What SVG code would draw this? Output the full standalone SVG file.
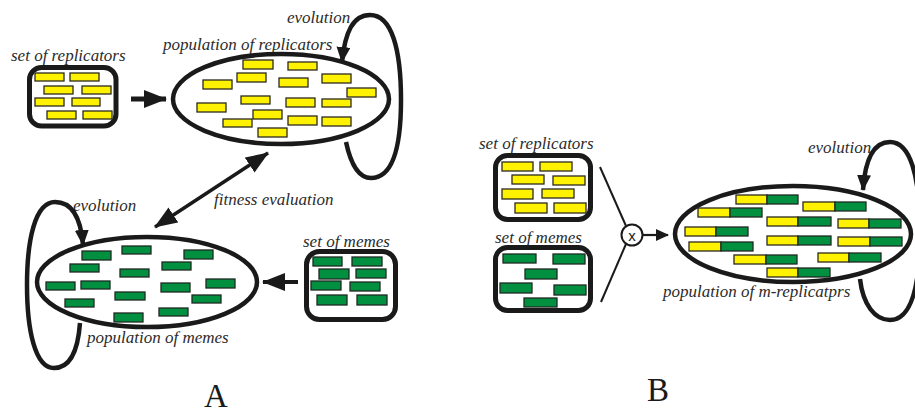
<svg xmlns="http://www.w3.org/2000/svg" width="915" height="413" viewBox="0 0 915 413">
  <style>
    .lbl { font-family: "Liberation Serif", "Times New Roman", serif; font-style: italic; font-size: 17px; fill: #2b2b2b; }
    .big { font-family: "Liberation Serif", "Times New Roman", serif; font-size: 33px; fill: #1a1a1a; }
    .box { fill: #ffffff; stroke: #1a1a1a; stroke-width: 5; }
    .pop { fill: #ffffff; stroke: #1a1a1a; stroke-width: 4.5; }
    .y { fill: #fff200; stroke: #2b2a1e; stroke-width: 1.3; }
    .g { fill: #00903f; stroke: #1f2a22; stroke-width: 1.3; }
    .loop { fill: none; stroke: #1a1a1a; stroke-width: 4.5; }
    .thin { fill: none; stroke: #1a1a1a; stroke-width: 2; }
    .head { fill: #1a1a1a; }
  </style>
  <defs>
    <marker id="ah" markerUnits="userSpaceOnUse" markerWidth="20" markerHeight="16" refX="15" refY="7" orient="auto">
      <path d="M0,0 L16,7 L0,14 Z" fill="#1a1a1a"/>
    </marker>
    <marker id="ahBig" markerUnits="userSpaceOnUse" markerWidth="26" markerHeight="22" refX="22" refY="9" orient="auto-start-reverse">
      <path d="M0,0 L23,9 L0,18 Z" fill="#1a1a1a"/>
    </marker>
    <marker id="ahSmall" markerUnits="userSpaceOnUse" markerWidth="16" markerHeight="14" refX="12" refY="6" orient="auto">
      <path d="M0,0 L13,6 L0,12 Z" fill="#1a1a1a"/>
    </marker>
  </defs>

  <!-- ===== Part A ===== -->
  <g id="a-set-of-replicators">
    <text class="lbl" x="11" y="61">set of replicators</text>
    <rect class="box" x="29.5" y="67.5" width="86.5" height="58.5" rx="12"/>
    <rect class="y" x="35" y="73" width="29" height="8"/>
    <rect class="y" x="70" y="73" width="29" height="8"/>
    <rect class="y" x="44" y="86" width="29" height="8"/>
    <rect class="y" x="82" y="86" width="29" height="8"/>
    <rect class="y" x="35" y="98" width="29" height="8"/>
    <rect class="y" x="72" y="98" width="28" height="8"/>
    <rect class="y" x="47" y="111" width="29" height="8"/>
    <rect class="y" x="83" y="111" width="29" height="8"/>
  </g>

  <g id="a-population-of-replicators">
    <text class="lbl" x="163" y="50">population of replicators</text>
    <ellipse class="pop" cx="281" cy="99" rx="108" ry="45"/>
    <rect class="y" x="243" y="60" width="30" height="9"/>
    <rect class="y" x="288" y="62" width="29" height="8"/>
    <rect class="y" x="237" y="73" width="29" height="9"/>
    <rect class="y" x="203" y="80" width="29" height="9"/>
    <rect class="y" x="279" y="78" width="29" height="9"/>
    <rect class="y" x="322" y="74" width="29" height="9"/>
    <rect class="y" x="347" y="88" width="29" height="9"/>
    <rect class="y" x="241" y="96" width="29" height="8"/>
    <rect class="y" x="197" y="103" width="29" height="9"/>
    <rect class="y" x="286" y="98" width="29" height="9"/>
    <rect class="y" x="322" y="99" width="29" height="8"/>
    <rect class="y" x="253" y="110" width="29" height="9"/>
    <rect class="y" x="223" y="119" width="29" height="8"/>
    <rect class="y" x="288" y="116" width="29" height="9"/>
    <rect class="y" x="322" y="117" width="29" height="9"/>
    <rect class="y" x="258" y="128" width="29" height="9"/>
  </g>

  <g id="a-population-of-memes">
    <text class="lbl" x="87" y="343">population of memes</text>
    <ellipse class="pop" cx="147" cy="282" rx="110" ry="45"/>
    <rect class="g" x="82" y="251" width="29" height="9"/>
    <rect class="g" x="122" y="246" width="29" height="8"/>
    <rect class="g" x="184" y="250" width="29" height="9"/>
    <rect class="g" x="70" y="264" width="29" height="8"/>
    <rect class="g" x="162" y="262" width="29" height="8"/>
    <rect class="g" x="120" y="269" width="29" height="8"/>
    <rect class="g" x="46" y="282" width="29" height="8"/>
    <rect class="g" x="81" y="281" width="29" height="8"/>
    <rect class="g" x="161" y="283" width="29" height="9"/>
    <rect class="g" x="206" y="279" width="29" height="9"/>
    <rect class="g" x="115" y="292" width="30" height="8"/>
    <rect class="g" x="65" y="299" width="29" height="8"/>
    <rect class="g" x="192" y="295" width="29" height="8"/>
    <rect class="g" x="114" y="313" width="29" height="9"/>
    <rect class="g" x="159" y="308" width="29" height="8"/>
  </g>

  <g id="a-set-of-memes">
    <text class="lbl" x="303" y="247">set of memes</text>
    <rect class="box" x="306.5" y="251.5" width="89" height="68" rx="13"/>
    <rect class="g" x="313" y="257" width="29" height="9"/>
    <rect class="g" x="352" y="257" width="30" height="9"/>
    <rect class="g" x="319" y="269" width="30" height="10"/>
    <rect class="g" x="356" y="269" width="30" height="9"/>
    <rect class="g" x="311" y="281" width="30" height="9"/>
    <rect class="g" x="350" y="282" width="30" height="9"/>
    <rect class="g" x="317" y="295" width="30" height="10"/>
    <rect class="g" x="357" y="295" width="30" height="10"/>
  </g>

  <g id="a-labels">
    <text class="lbl" x="287" y="23">evolution</text>
    <text class="lbl" x="73" y="211">evolution</text>
    <text class="lbl" x="214" y="205">fitness evaluation</text>
    <text class="big" x="216" y="407" text-anchor="middle">A</text>
  </g>

  <!-- ===== Part B ===== -->
  <g id="b-set-of-replicators">
    <text class="lbl" x="479" y="149">set of replicators</text>
    <rect class="box" x="495.5" y="155.5" width="95" height="64" rx="12"/>
    <rect class="y" x="502" y="162" width="31" height="9"/>
    <rect class="y" x="540" y="162" width="32" height="9"/>
    <rect class="y" x="512" y="175" width="32" height="9"/>
    <rect class="y" x="553" y="176" width="32" height="9"/>
    <rect class="y" x="502" y="189" width="31" height="10"/>
    <rect class="y" x="542" y="189" width="32" height="9"/>
    <rect class="y" x="515" y="203" width="32" height="10"/>
    <rect class="y" x="554" y="203" width="32" height="10"/>
  </g>

  <g id="b-set-of-memes">
    <text class="lbl" x="495" y="243">set of memes</text>
    <rect class="box" x="495.5" y="247.5" width="95" height="63" rx="12"/>
    <rect class="g" x="503" y="254" width="33" height="9"/>
    <rect class="g" x="553" y="254" width="32" height="10"/>
    <rect class="g" x="525" y="269" width="32" height="10"/>
    <rect class="g" x="500" y="283" width="32" height="10"/>
    <rect class="g" x="554" y="285" width="32" height="10"/>
    <rect class="g" x="524" y="298" width="33" height="9"/>
  </g>

  <g id="b-combine">
    <circle cx="632" cy="235" r="10.5" fill="#ffffff" stroke="#1a1a1a" stroke-width="2"/>
    <text x="632" y="240.5" text-anchor="middle" font-family="Liberation Sans, Arial, sans-serif" font-size="15" fill="#1a1a1a">x</text>
  </g>

  <g id="b-population-of-m-replicators">
    <text class="lbl" x="663" y="297">population of m-replicatprs</text>
    <ellipse class="pop" cx="793" cy="234" rx="118" ry="48"/>
    <g>
      <rect class="y" x="736" y="195" width="31" height="9"/><rect class="g" x="767" y="195" width="31" height="9"/>
      <rect class="y" x="698" y="208" width="32" height="9"/><rect class="g" x="730" y="208" width="32" height="9"/>
      <rect class="y" x="803" y="202" width="32" height="9"/><rect class="g" x="835" y="202" width="31" height="9"/>
      <rect class="y" x="767" y="217" width="31" height="9"/><rect class="g" x="798" y="217" width="33" height="9"/>
      <rect class="y" x="838" y="219" width="31" height="9"/><rect class="g" x="869" y="219" width="32" height="9"/>
      <rect class="y" x="685" y="227" width="31" height="9"/><rect class="g" x="716" y="227" width="32" height="9"/>
      <rect class="y" x="767" y="236" width="31" height="9"/><rect class="g" x="798" y="236" width="33" height="9"/>
      <rect class="y" x="838" y="237" width="32" height="9"/><rect class="g" x="870" y="237" width="32" height="9"/>
      <rect class="y" x="689" y="242" width="32" height="9"/><rect class="g" x="721" y="242" width="32" height="9"/>
      <rect class="y" x="818" y="253" width="31" height="9"/><rect class="g" x="849" y="253" width="32" height="9"/>
      <rect class="y" x="734" y="255" width="32" height="9"/><rect class="g" x="766" y="255" width="31" height="9"/>
      <rect class="y" x="767" y="268" width="31" height="9"/><rect class="g" x="798" y="268" width="32" height="9"/>
    </g>
  </g>

  <g id="b-labels">
    <text class="lbl" x="808" y="153">evolution</text>
    <text class="big" x="658" y="401" text-anchor="middle">B</text>
  </g>

  <!-- ===== Connectors ===== -->
  <g id="connectors">
    <!-- set of replicators -> population -->
    <line x1="131" y1="99" x2="166" y2="99" stroke="#1a1a1a" stroke-width="5" marker-end="url(#ahBig)"/>
    <!-- set of memes -> population -->
    <line x1="298" y1="282" x2="263" y2="282" stroke="#1a1a1a" stroke-width="4" marker-end="url(#ahBig)"/>
    <!-- fitness evaluation (two-way) -->
    <line x1="155" y1="227" x2="268" y2="153" stroke="#1a1a1a" stroke-width="3.5" marker-start="url(#ahBig)" marker-end="url(#ahBig)"/>
    <!-- evolution loop, top population -->
    <path class="loop" d="M346,142 C352,170 361,178 371,178 C392,178 401,150 401,100 C401,50 392,15 370,15 C353,15 345,32 342,62" marker-end="url(#ah)"/>
    <!-- evolution loop, bottom population -->
    <path class="loop" d="M80,323 C78,350 70,368 54,368 C35,368 27,330 27,285 C27,240 35,202 55,202 C73,202 81,220 83,245" marker-end="url(#ah)"/>
    <!-- evolution loop, m-replicator population -->
    <path class="loop" d="M860,279 C863,305 875,320 890,320 C910,320 920,290 920,232 C920,175 910,142 890,142 C873,142 865,160 863,190" marker-end="url(#ah)"/>
    <!-- inputs into the crossover node -->
    <line class="thin" x1="600" y1="167" x2="626" y2="226"/>
    <line class="thin" x1="601" y1="302" x2="626" y2="244"/>
    <line x1="642.5" y1="235" x2="668" y2="235" stroke="#1a1a1a" stroke-width="2.2" marker-end="url(#ahSmall)"/>
  </g>
</svg>
